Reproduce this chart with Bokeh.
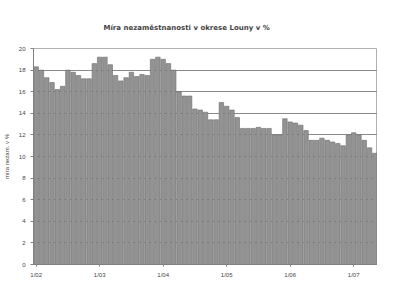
from bokeh.plotting import figure
from bokeh.models import FixedTicker, Range1d, ColumnDataSource
from bokeh.embed import file_html
from bokeh.resources import INLINE

title_text = "Míra nezaměstnanosti v okrese Louny v %"
y_label = "míra nezam. v %"
tick_labels = ["1/02", "1/03", "1/04", "1/05", "1/06", "1/07"]
rate = [18.3, 18.0, 17.3, 16.85, 16.2, 16.5, 18.0, 17.8, 17.5, 17.2, 17.2, 18.6,
        19.2, 19.2, 18.5, 17.5, 17.0, 17.3, 17.8, 17.4, 17.6, 17.5, 19.0, 19.2,
        19.0, 18.6, 18.0, 16.0, 15.6, 15.6, 14.4, 14.3, 14.1, 13.4, 13.4, 15.0,
        14.65, 14.3, 13.6, 12.6, 12.6, 12.6, 12.7, 12.6, 12.6, 12.0, 12.0, 13.5,
        13.2, 13.1, 12.9, 12.4, 11.5, 11.5, 11.7, 11.5, 11.35, 11.2, 11.0, 12.0,
        12.2, 12.0, 11.5, 10.8, 10.3]
months = list(range(len(rate)))
y_ticks = list(range(0, 21, 2))

src = ColumnDataSource(dict(x=months, top=rate))

p = figure(width=377, height=280, output_backend="svg", toolbar_location=None,
           x_range=Range1d(-0.5, len(rate) - 0.5), y_range=Range1d(0, 20),
           min_border_left=29, min_border_right=0, min_border_top=48, min_border_bottom=13)
p.title.text = title_text
p.title.align = "left"
p.title.offset = 70
p.title.text_font = "DejaVu Sans"
p.title.text_font_size = "7px"
p.title.text_font_style = "bold"
p.title.standoff = 34

p.vbar(x="x", top="top", width=0.85, source=src, fill_color="#939393",
       line_color="#6c6c6c", line_width=0.6)

p.yaxis.ticker = FixedTicker(ticks=y_ticks)
p.yaxis.axis_label = y_label
p.yaxis.axis_label_text_font_size = "6px"
p.yaxis.axis_label_text_font_style = "normal"
p.yaxis.axis_label_standoff = 6
p.yaxis.major_label_text_font_size = "6px"
p.yaxis.major_tick_in = 0
p.yaxis.major_tick_out = 3
p.yaxis.minor_tick_out = 0
p.yaxis.minor_tick_in = 0
p.yaxis.axis_line_color = "#808080"
p.yaxis.major_tick_line_color = "#808080"

p.xaxis.ticker = FixedTicker(ticks=months[::12])
p.xaxis.major_label_overrides = {m: lab for m, lab in zip(months[::12], tick_labels)}
p.xaxis.major_label_text_font_size = "6px"
p.xaxis.major_tick_in = 0
p.xaxis.major_tick_out = 2
p.xaxis.axis_line_color = "#808080"
p.xaxis.major_tick_line_color = "#808080"

p.ygrid.ticker = FixedTicker(ticks=y_ticks)
p.ygrid.grid_line_color = "#8a8a8a"
p.ygrid.grid_line_width = 1
p.xgrid.grid_line_color = None
p.outline_line_color = "#b0b0b0"
p.border_fill_color = "white"
p.background_fill_color = "white"

open("out.html", "w").write(file_html(p, INLINE))
